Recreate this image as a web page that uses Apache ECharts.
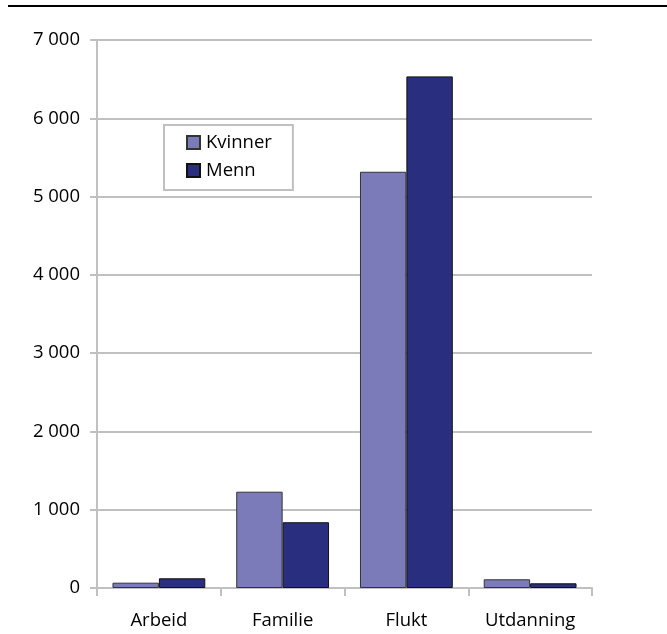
<!DOCTYPE html>
<html><head><meta charset="utf-8">
<script src="https://cdn.jsdelivr.net/npm/echarts@6/dist/echarts.min.js"></script>
<style>html,body{margin:0;padding:0;background:#fff}#c{width:667px;height:634px}</style>
</head><body><div id="c"></div>
<script>
var categories = ['Arbeid', 'Familie', 'Flukt', 'Utdanning'];
var kvinner = [68, 1230, 5317, 111];
var menn = [124, 840, 6535, 60];
var yTicks = [0, 1000, 2000, 3000, 4000, 5000, 6000, 7000];

var font = '"Open Sans", sans-serif';
var fs = 18.5;
var chart = echarts.init(document.getElementById('c'), null, {renderer: 'canvas'});
chart.setOption({
  animation: false,
  backgroundColor: '#fff',
  textStyle: {fontFamily: font},
  graphic: [{type: 'rect', shape: {x: 8, y: 5, width: 659, height: 2}, style: {fill: '#000'}}],
  grid: {left: 97, right: 75, top: 40, bottom: 46, containLabel: false},
  legend: {
    orient: 'vertical', left: 164, top: 125,
    padding: [8, 21, 10, 22], itemGap: 9, itemWidth: 13, itemHeight: 13,
    borderColor: '#c0c0c0', borderWidth: 2, backgroundColor: '#fff',
    icon: 'rect',
    textStyle: {fontFamily: font, fontSize: fs, color: '#000', padding: [0, 0, 0, 1]},
    data: ['Kvinner', 'Menn']
  },
  xAxis: {
    type: 'category', data: categories,
    axisLine: {lineStyle: {color: '#c0c0c0', width: 2}},
    axisTick: {show: true, length: 8, lineStyle: {color: '#c0c0c0', width: 2}},
    axisLabel: {fontFamily: font, fontSize: fs, color: '#000', margin: 23}
  },
  yAxis: {
    type: 'value', min: 0, max: 7000, interval: 1000,
    axisLine: {show: true, lineStyle: {color: '#c0c0c0', width: 2}},
    axisTick: {show: true, length: 7, lineStyle: {color: '#c0c0c0', width: 2}},
    splitLine: {lineStyle: {color: '#c0c0c0', width: 2}},
    axisLabel: {fontFamily: font, fontSize: fs, color: '#000', margin: 17,
      formatter: function (v) { return String(v).replace(/\B(?=(\d{3})+(?!\d))/g, ' '); }}
  },
  series: [
    {name: 'Kvinner', type: 'bar', data: kvinner, barGap: '0%', barCategoryGap: '25%',
     itemStyle: {color: '#7b7bba', borderColor: '#333', borderWidth: 1}},
    {name: 'Menn', type: 'bar', data: menn,
     itemStyle: {color: '#2a2e7e', borderColor: '#111', borderWidth: 1}}
  ]
});
</script></body></html>
